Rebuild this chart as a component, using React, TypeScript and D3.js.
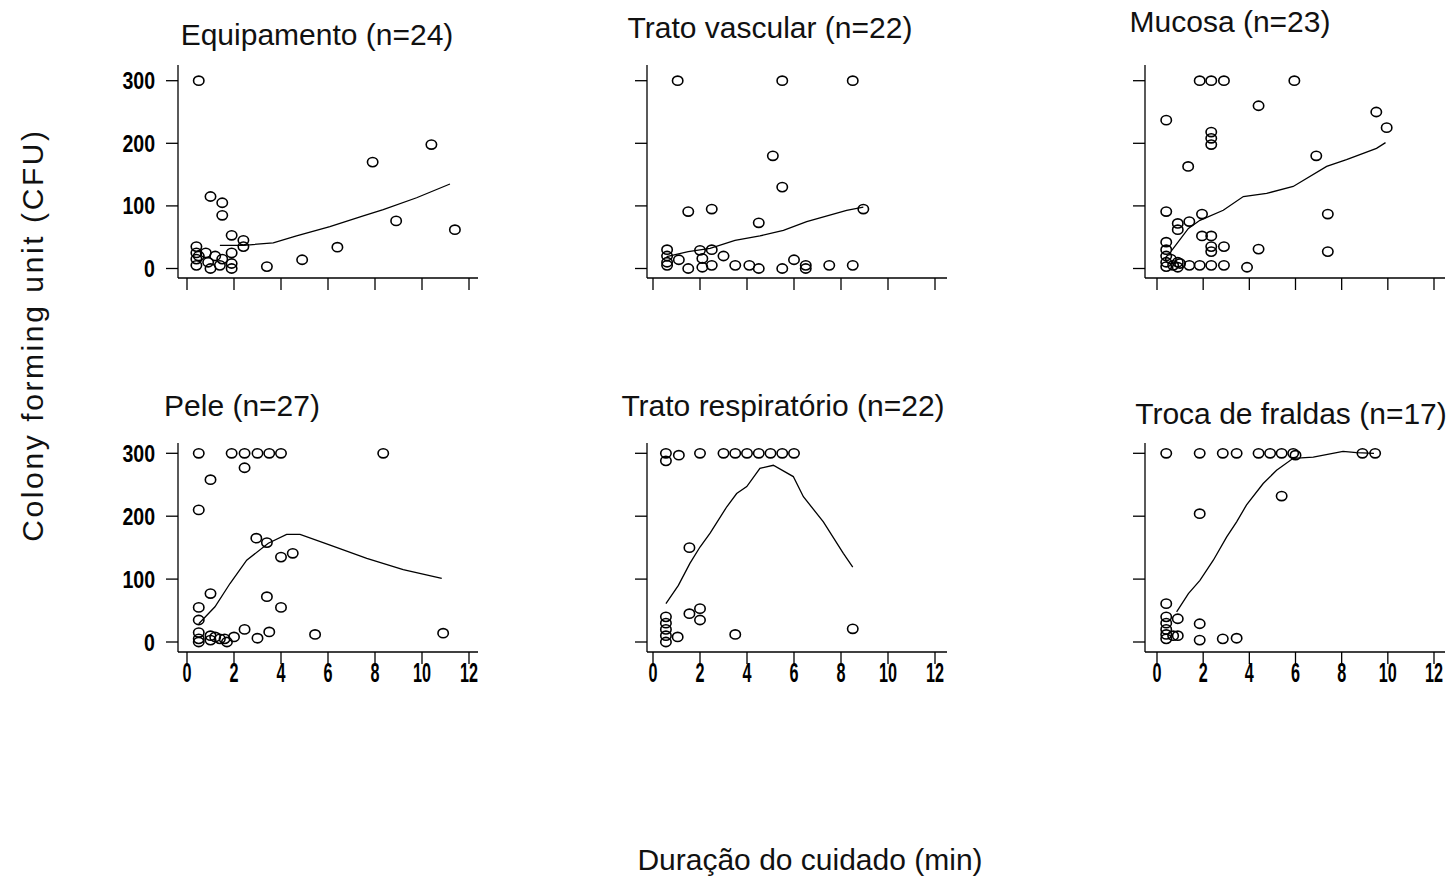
import React from "react";
import * as d3 from "d3";

// ---------- Data ----------
const panelTitles = [
  "Equipamento (n=24)",
  "Trato vascular (n=22)",
  "Mucosa (n=23)",
  "Pele (n=27)",
  "Trato respiratório (n=22)",
  "Troca de fraldas (n=17)",
];

const xTickValues = [0, 2, 4, 6, 8, 10, 12];
const yTickValues = [0, 100, 200, 300];
const xAxisTitle = "Duração do cuidado (min)";
const yAxisTitle = "Colony forming unit (CFU)";

// Equipamento
const equipX = [0.5, 1.0, 1.5, 1.5, 7.9, 10.4, 8.9, 11.4, 6.4, 4.9, 3.4, 1.9, 2.4, 2.4, 0.4, 0.4, 0.4, 0.4, 0.5, 0.8, 0.9, 1.0, 1.2, 1.5, 1.9, 1.9, 1.9, 1.4];
const equipY = [300, 115, 105, 85, 170, 198, 76, 62, 34, 14, 3, 53, 45, 35, 35, 25, 15, 5, 20, 25, 10, 0, 20, 15, 25, 8, 0, 5];
const equipFitX = [1.4, 2.4, 3.67, 4.66, 6.08, 7.5, 8.35, 9.77, 11.19];
const equipFitY = [37, 37, 41, 52, 67, 84, 94, 113, 135];

// Trato vascular
const vascX = [1.05, 5.5, 8.5, 5.1, 5.5, 1.5, 2.5, 4.5, 8.95, 0.6, 0.6, 0.6, 0.6, 1.1, 1.5, 2.1, 2.1, 2.5, 2.5, 3.0, 3.5, 4.1, 4.5, 5.5, 6.0, 6.5, 6.5, 7.5, 8.5, 2.0];
const vascY = [300, 300, 300, 180, 130, 91, 95, 73, 95, 30, 20, 10, 5, 14, 0, 16, 2, 30, 5, 20, 5, 5, 0, 0, 14, 5, 0, 5, 5, 29];
const vascFitX = [0.58, 1.5, 2.43, 3.49, 4.55, 5.55, 6.54, 8.24, 8.95];
const vascFitY = [19, 27, 32, 45, 52, 61, 75, 93, 98];

// Mucosa
const mucX = [1.85, 2.35, 2.9, 5.95, 0.4, 4.4, 9.5, 9.95, 2.35, 2.35, 2.35, 1.35, 6.9, 7.4, 7.4, 4.4, 3.9, 0.4, 0.9, 0.9, 1.4, 1.95, 1.95, 2.35, 2.35, 2.35, 2.9, 1.85, 2.35, 2.9, 0.4, 0.4, 0.4, 0.4, 0.4, 0.6, 0.7, 0.9, 0.9, 1.0, 1.4];
const mucY = [300, 300, 300, 300, 237, 260, 250, 225, 218, 208, 198, 163, 180, 87, 27, 31, 2, 91, 72, 62, 75, 87, 52, 52, 35, 27, 35, 5, 5, 5, 42, 30, 20, 10, 3, 15, 5, 10, 2, 8, 5];
const mucFitX = [0.64, 1.36, 1.86, 2.87, 3.74, 4.75, 5.9, 7.35, 8.21, 9.51, 9.9];
const mucFitY = [29, 64, 77, 93, 115, 120, 131, 163, 174, 192, 201];

// Pele
const peleX = [0.5, 1.9, 2.45, 3.0, 3.5, 4.0, 2.45, 8.35, 1.0, 0.5, 2.95, 3.4, 4.0, 4.5, 3.4, 4.0, 1.0, 0.5, 0.5, 5.45, 10.9, 3.5, 3.0, 2.45, 2.0, 0.5, 0.5, 0.5, 1.0, 1.0, 1.2, 1.4, 1.6, 1.7];
const peleY = [300, 300, 300, 300, 300, 300, 277, 300, 258, 210, 165, 158, 135, 141, 72, 55, 77, 55, 35, 12, 14, 16, 6, 20, 8, 15, 5, 0, 10, 3, 8, 5, 5, 0];
const peleFitX = [0.5, 1.19, 1.83, 2.54, 3.46, 4.24, 4.81, 6.09, 7.65, 9.2, 10.84];
const peleFitY = [29, 56, 93, 130, 157, 171, 171, 154, 133, 115, 101];

// Trato respiratório
const respX = [0.55, 0.55, 1.1, 2.0, 3.0, 3.5, 4.0, 4.5, 5.0, 5.5, 6.0, 1.55, 2.0, 2.0, 1.55, 1.05, 3.5, 8.5, 0.55, 0.55, 0.55, 0.55, 0.55];
const respY = [300, 288, 297, 300, 300, 300, 300, 300, 300, 300, 300, 150, 53, 35, 45, 8, 12, 21, 40, 30, 20, 10, 0];
const respFitX = [0.55, 1.08, 1.57, 2.0, 2.43, 3.14, 3.56, 3.99, 4.55, 5.12, 5.97, 6.4, 7.25, 8.1, 8.5];
const respFitY = [61, 90, 125, 151, 173, 215, 236, 247, 276, 281, 263, 231, 191, 141, 119];

// Troca de fraldas
const fraldX = [0.4, 1.85, 2.85, 3.45, 4.4, 4.9, 5.4, 5.9, 6.0, 8.9, 9.45, 5.4, 1.85, 0.4, 0.9, 1.85, 1.85, 2.85, 3.45, 0.4, 0.4, 0.4, 0.4, 0.4, 0.7, 0.9];
const fraldY = [300, 300, 300, 300, 300, 300, 300, 300, 297, 300, 300, 232, 204, 61, 37, 29, 3, 5, 6, 40, 30, 20, 12, 5, 10, 10];
const fraldFitX = [0.85, 1.36, 1.86, 2.44, 3.02, 3.45, 3.88, 4.6, 5.18, 5.9, 6.77, 8.06, 8.64, 9.4];
const fraldFitY = [48, 77, 98, 130, 167, 191, 218, 252, 273, 292, 294, 303, 301, 300];

const panelXs = [equipX, vascX, mucX, peleX, respX, fraldX];
const panelYs = [equipY, vascY, mucY, peleY, respY, fraldY];
const panelFitXs = [equipFitX, vascFitX, mucFitX, peleFitX, respFitX, fraldFitX];
const panelFitYs = [equipFitY, vascFitY, mucFitY, peleFitY, respFitY, fraldFitY];

// ---------- Layout ----------
const W = 1454;
const H = 876;
const colAxisX = [178, 647, 1145];
const colX0 = [187, 653, 1157];
const colX12 = [469, 935, 1434];
const rowY0 = [268.5, 642];
const rowY300 = [80.7, 453.3];
const rowAxisTop = [65, 443];
const rowAxisBottom = [278, 652];
const titlePos = [
  [317, 45],
  [770, 38],
  [1230, 32],
  [242, 416],
  [783, 416],
  [1291, 424],
];

const FONT = "'Liberation Sans', Arial, sans-serif";

function Panel({ idx }: { idx: number }) {
  const col = idx % 3;
  const row = Math.floor(idx / 3);
  const x = d3.scaleLinear().domain([0, 12]).range([colX0[col], colX12[col]]);
  const y = d3.scaleLinear().domain([0, 300]).range([rowY0[row], rowY300[row]]);
  const axisX = colAxisX[col];
  const axisEnd = axisX + 300;
  const yBottom = rowAxisBottom[row];
  const xs = panelXs[idx];
  const ys = panelYs[idx];
  const fx = panelFitXs[idx];
  const fy = panelFitYs[idx];
  const line = d3
    .line<number>()
    .x((_, i) => x(fx[i]))
    .y((_, i) => y(fy[i]))
    .curve(d3.curveLinear);

  return (
    <g>
      <text
        x={titlePos[idx][0]}
        y={titlePos[idx][1]}
        textAnchor="middle"
        fontFamily={FONT}
        fontSize={30}
        fill="#111"
      >
        {panelTitles[idx]}
      </text>
      {/* axes */}
      <line x1={axisX} x2={axisX} y1={rowAxisTop[row]} y2={yBottom} stroke="#000" strokeWidth={1.3} />
      <line x1={axisX} x2={axisEnd} y1={yBottom} y2={yBottom} stroke="#000" strokeWidth={1.3} />
      {yTickValues.map((t) => (
        <g key={"yt" + t}>
          <line x1={axisX - 12} x2={axisX} y1={y(t)} y2={y(t)} stroke="#000" strokeWidth={1.3} />
          {col === 0 && (
            <text
              transform={`translate(${155},${y(t) + 8.5}) scale(0.85,1)`}
              textAnchor="end"
              fontFamily={FONT}
              fontWeight="bold"
              fontSize={23}
              fill="#000"
            >
              {t}
            </text>
          )}
        </g>
      ))}
      {xTickValues.map((t) => (
        <g key={"xt" + t}>
          <line x1={x(t)} x2={x(t)} y1={yBottom} y2={yBottom + 12} stroke="#000" strokeWidth={1.3} />
          {row === 1 && (
            <text
              transform={`translate(${x(t)},${yBottom + 30}) scale(0.6,1)`}
              textAnchor="middle"
              fontFamily={FONT}
              fontWeight="bold"
              fontSize={27}
              fill="#000"
            >
              {t}
            </text>
          )}
        </g>
      ))}
      {/* points */}
      {xs.map((v, i) => (
        <ellipse
          key={"p" + i}
          cx={x(v)}
          cy={y(ys[i])}
          rx={5.2}
          ry={4.6}
          fill="none"
          stroke="#000"
          strokeWidth={1.6}
        />
      ))}
      {/* smooth */}
      <path d={line(fx) || ""} fill="none" stroke="#000" strokeWidth={1.3} />
    </g>
  );
}

export default function App() {
  return (
    <svg
      width={W}
      height={H}
      style={{ position: "absolute", left: 0, top: 0, background: "#fff" }}
    >
      <rect width={W} height={H} fill="#fff" />
      {panelTitles.map((_, i) => (
        <Panel key={i} idx={i} />
      ))}
      <text
        transform={`translate(43,335) rotate(-90)`}
        textAnchor="middle"
        fontFamily={FONT}
        fontSize={30}
        letterSpacing={2.6}
        fill="#111"
      >
        {yAxisTitle}
      </text>
      <text x={810} y={870} textAnchor="middle" fontFamily={FONT} fontSize={30} fill="#111">
        {xAxisTitle}
      </text>
    </svg>
  );
}
